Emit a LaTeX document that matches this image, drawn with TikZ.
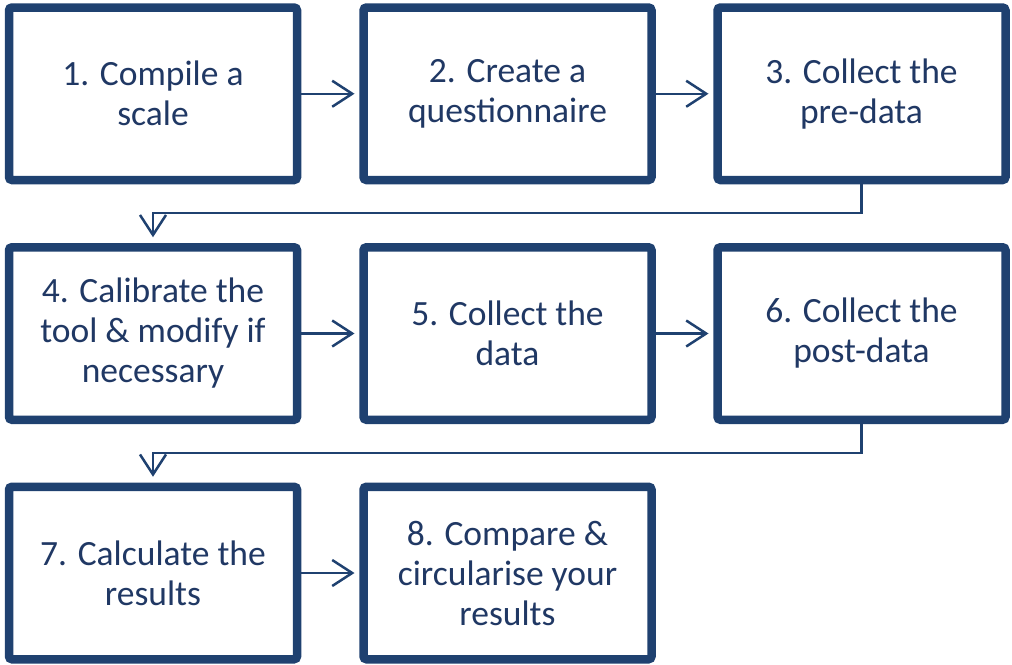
\documentclass[tikz,border=0pt]{standalone}
\usepackage{fontspec}
\setmainfont{Carlito}
\usetikzlibrary{arrows.meta}
\definecolor{boxblue}{RGB}{31,65,112}
\definecolor{txtblue}{RGB}{32,56,100}
\tikzset{
  stepbox/.style={draw=boxblue, line width=8.5pt, fill=white, rounded corners=3pt,
    minimum width=288pt, minimum height=172.5pt, inner sep=0pt, outer sep=0pt,
    align=center, text=txtblue, font=\fontsize{35.5pt}{40pt}\selectfont},
  conn/.style={draw=boxblue, line width=2.5pt,
    -{Straight Barb[length=20pt,width=26pt]}}
}
\begin{document}
\begin{tikzpicture}[x=1pt,y=-1pt]
\useasboundingbox (0,0) rectangle (1012,664);
\node[stepbox] (b1) at (153,93.75) {1. Compile a\\scale};
\node[stepbox] (b2) at (507.5,93.75) {2. Create a\\questionnaire};
\node[stepbox] (b3) at (861.5,93.75) {3. Collect the\\pre-data};
\node[stepbox] (b4) at (153,333.5) {4. Calibrate the\\tool \& modify if\\necessary};
\node[stepbox] (b5) at (507.5,333.5) {5. Collect the\\data};
\node[stepbox] (b6) at (861.5,333.5) {6. Collect the\\post-data};
\node[stepbox] (b7) at (153,573) {7. Calculate the\\results};
\node[stepbox] (b8) at (507.5,573) {8. Compare \&\\circularise your\\results};
\draw[conn, shorten >=9pt] (b1.east) -- (b2.west);
\draw[conn, shorten >=9pt] (b2.east) -- (b3.west);
\draw[conn, shorten >=9pt] (b4.east) -- (b5.west);
\draw[conn, shorten >=9pt] (b5.east) -- (b6.west);
\draw[conn, shorten >=9pt] (b7.east) -- (b8.west);
\draw[conn, shorten >=10pt] (b3.south) -- ++(0,33) -| (b4.north);
\draw[conn, shorten >=10pt] (b6.south) -- ++(0,33) -| (b7.north);
\end{tikzpicture}
\end{document}
